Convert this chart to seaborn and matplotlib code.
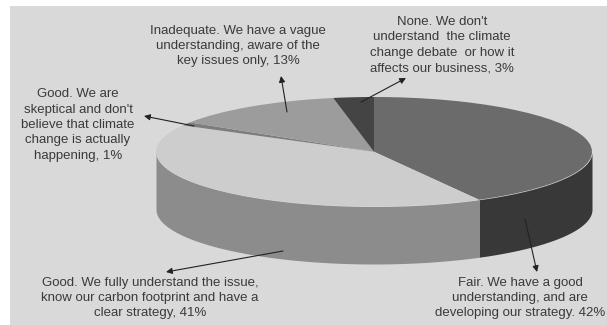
import numpy as np
import matplotlib
matplotlib.use("Agg")
import matplotlib.pyplot as plt
from matplotlib.patches import Rectangle
import seaborn as sns

sns.set_theme(style="white")
plt.rcParams['font.family'] = ['Liberation Sans', 'DejaVu Sans']

shares = [42, 41, 1, 13, 3]
top_colors = ['#6b6b6b', '#cdcdcd', '#7d7d7d', '#9c9c9c', '#444444']
side_colors = ['#383838', '#8c8c8c', '#6a6a6a', '#808080', '#333333']
labels = [
    "Fair. We have a good\nunderstanding, and are\ndeveloping our strategy. 42%",
    "Good. We fully understand the issue,\nknow our carbon footprint and have a\nclear strategy, 41%",
    "Good. We are\nskeptical and don't\nbelieve that climate\nchange is actually\nhappening, 1%",
    "Inadequate. We have a vague\nunderstanding, aware of the\nkey issues only, 13%",
    "None. We don't\nunderstand  the climate\nchange debate  or how it\naffects our business, 3%",
]
label_pos = [(520, 298), (150, 298), (78, 125), (238, 46), (442, 45)]
arrow_from = [(525, 219), (283, 251), (194, 126), (287, 112), (361, 102)]
arrow_to = [(537, 272), (166, 272), (144, 116), (281, 76), (406, 78)]

W, H = 607, 325
fig = plt.figure(figsize=(W / 100, H / 100), dpi=100, facecolor='white')
bg = fig.add_axes([0, 0, 1, 1])
bg.set_xlim(0, W)
bg.set_ylim(H, 0)
bg.axis('off')
bg.add_patch(Rectangle((10, 6), W - 10, H - 6, color='#d9d9d9', lw=0))

left, right, top, bottom = 156, 592, 97, 264
depth = 1.05
ax = fig.add_axes([left / W, 1 - bottom / H, (right - left) / W, (bottom - top) / H])
ax.set_zorder(1)
ax.patch.set_alpha(0)
ax.pie(shares, colors=top_colors, startangle=90, counterclock=False, radius=1,
       wedgeprops=dict(linewidth=0), center=(0, 0))
ax.set_aspect('auto')
ax.set_xlim(-1, 1)
ax.set_ylim(-1 - depth, 1)

edges = np.cumsum([0] + shares) / sum(shares) * 2 * np.pi
for a, b, c in zip(edges[:-1], edges[1:], side_colors):
    a2, b2 = max(a, np.pi / 2), min(b, 1.5 * np.pi)
    if b2 <= a2:
        continue
    t = np.linspace(a2, b2, 200)
    x, y = np.sin(t), np.cos(t)
    ax.fill_between(x, y, y - depth, color=c, lw=0, zorder=0)

for txt, p in zip(labels, label_pos):
    bg.text(p[0], p[1], txt, ha='center', va='center', fontsize=9.5,
            color='#3a3a3a', linespacing=1.38, zorder=5)

over = fig.add_axes([0, 0, 1, 1])
over.set_zorder(2)
over.set_xlim(0, W)
over.set_ylim(H, 0)
over.axis('off')
for a0, a1 in zip(arrow_from, arrow_to):
    over.annotate('', xy=a1, xytext=a0,
                  arrowprops=dict(arrowstyle='-|>', color='#222222', lw=0.8,
                                  mutation_scale=9, shrinkA=0, shrinkB=0))

fig.savefig('out.png', dpi=100)
